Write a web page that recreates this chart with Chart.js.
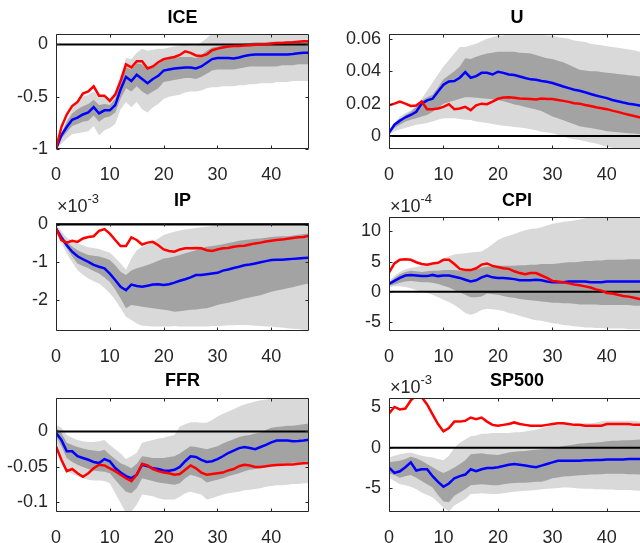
<!DOCTYPE html>
<html><head><meta charset="utf-8">
<script src="https://cdn.jsdelivr.net/npm/chart.js@4.4.1/dist/chart.umd.min.js"></script>
<style>
html,body{margin:0;padding:0;background:#fff;overflow:hidden;width:640px;height:543px;}
canvas{position:absolute;}
</style></head><body>
<script>
const horizons = [0,1,2,3,4,5,6,7,8,9,10,11,12,13,14,15,16,17,18,19,20,21,22,23,24,25,26,27,28,29,30,31,32,33,34,35,36,37,38,39,40,41,42,43,44,45,46,47];
const xTicks = [0,10,20,30,40];

// ICE
const iceBlue = [-1,-0.87,-0.79,-0.72,-0.70,-0.67,-0.65,-0.60,-0.66,-0.63,-0.63,-0.58,-0.43,-0.31,-0.35,-0.29,-0.33,-0.37,-0.33,-0.30,-0.25,-0.24,-0.23,-0.225,-0.22,-0.22,-0.23,-0.21,-0.175,-0.14,-0.13,-0.13,-0.13,-0.135,-0.125,-0.11,-0.10,-0.097,-0.095,-0.097,-0.095,-0.097,-0.095,-0.095,-0.092,-0.085,-0.08,-0.08];
const iceRed = [-1,-0.79,-0.67,-0.59,-0.55,-0.47,-0.45,-0.40,-0.49,-0.49,-0.54,-0.48,-0.35,-0.19,-0.22,-0.16,-0.16,-0.23,-0.21,-0.17,-0.14,-0.13,-0.12,-0.10,-0.065,-0.08,-0.105,-0.11,-0.095,-0.055,-0.04,-0.03,-0.02,-0.015,-0.015,-0.01,-0.007,-0.003,0,0.003,0.01,0.015,0.015,0.018,0.02,0.025,0.03,0.03];
const iceHi90 = [-1,-0.85,-0.72,-0.62,-0.55,-0.50,-0.48,-0.45,-0.50,-0.50,-0.52,-0.45,-0.30,-0.13,-0.14,-0.08,-0.04,-0.06,-0.05,-0.04,-0.04,-0.03,-0.02,-0.01,0.0,-0.01,-0.01,0.02,0.06,0.11,0.13,0.14,0.14,0.15,0.15,0.15,0.15,0.16,0.16,0.16,0.16,0.16,0.16,0.16,0.16,0.16,0.16,0.16];
const iceHi68 = [-1,-0.85,-0.74,-0.66,-0.62,-0.59,-0.57,-0.53,-0.58,-0.57,-0.58,-0.52,-0.35,-0.22,-0.24,-0.18,-0.19,-0.24,-0.22,-0.19,-0.15,-0.14,-0.13,-0.12,-0.12,-0.12,-0.13,-0.10,-0.06,-0.03,-0.02,-0.01,-0.01,-0.01,0.0,0.01,0.015,0.02,0.02,0.02,0.025,0.025,0.025,0.03,0.03,0.03,0.035,0.035];
const iceLo68 = [-1,-0.90,-0.84,-0.78,-0.76,-0.74,-0.73,-0.68,-0.74,-0.70,-0.69,-0.65,-0.52,-0.42,-0.45,-0.40,-0.45,-0.48,-0.45,-0.42,-0.36,-0.35,-0.34,-0.33,-0.32,-0.32,-0.33,-0.31,-0.28,-0.25,-0.24,-0.24,-0.24,-0.24,-0.23,-0.22,-0.21,-0.21,-0.21,-0.21,-0.21,-0.21,-0.20,-0.20,-0.20,-0.19,-0.19,-0.19];
const iceLo90 = [-1,-0.95,-0.90,-0.86,-0.85,-0.84,-0.83,-0.78,-0.87,-0.82,-0.80,-0.76,-0.62,-0.55,-0.60,-0.55,-0.62,-0.65,-0.60,-0.57,-0.52,-0.50,-0.49,-0.48,-0.46,-0.45,-0.45,-0.44,-0.42,-0.41,-0.41,-0.40,-0.40,-0.40,-0.39,-0.39,-0.38,-0.38,-0.37,-0.37,-0.37,-0.36,-0.36,-0.36,-0.35,-0.35,-0.35,-0.35];
const iceTicks = [-1,-0.5,0];

// U
const uBlue = [0.002,0.007,0.0095,0.0116,0.013,0.015,0.020,0.022,0.023,0.0275,0.0317,0.0337,0.034,0.036,0.0395,0.036,0.037,0.039,0.039,0.038,0.0397,0.039,0.038,0.0377,0.0368,0.0358,0.035,0.0348,0.034,0.0335,0.0327,0.0317,0.0306,0.0296,0.0286,0.028,0.027,0.026,0.025,0.0242,0.0234,0.0223,0.0215,0.0207,0.020,0.0195,0.0188,0.018];
const uRed = [0.019,0.020,0.0213,0.020,0.0186,0.0188,0.0213,0.0166,0.0166,0.017,0.018,0.0197,0.0166,0.017,0.018,0.016,0.019,0.020,0.0197,0.0213,0.023,0.0238,0.024,0.0236,0.0232,0.023,0.0228,0.0226,0.0232,0.0228,0.0228,0.0223,0.0217,0.0211,0.0203,0.020,0.0192,0.0186,0.0178,0.0172,0.0166,0.0157,0.0149,0.014,0.0132,0.0124,0.0116,0.0108];
const uHi90 = [0.003,0.008,0.012,0.014,0.016,0.019,0.023,0.028,0.033,0.038,0.043,0.047,0.051,0.055,0.055,0.056,0.057,0.0585,0.060,0.061,0.062,0.062,0.063,0.063,0.063,0.063,0.063,0.063,0.0625,0.062,0.062,0.061,0.0605,0.060,0.059,0.0585,0.058,0.057,0.0565,0.056,0.0555,0.055,0.0545,0.054,0.0535,0.053,0.052,0.052];
const uHi68 = [0.002,0.006,0.009,0.013,0.015,0.018,0.022,0.024,0.0255,0.030,0.035,0.0375,0.040,0.043,0.048,0.0475,0.049,0.050,0.051,0.0515,0.052,0.052,0.052,0.052,0.0515,0.0513,0.051,0.050,0.049,0.048,0.0476,0.0465,0.0455,0.044,0.0425,0.041,0.0405,0.040,0.040,0.0395,0.039,0.0387,0.0383,0.038,0.0376,0.0372,0.0368,0.0364];
const uLo68 = [0.002,0.005,0.007,0.009,0.010,0.011,0.012,0.013,0.015,0.0175,0.020,0.021,0.022,0.023,0.024,0.024,0.0237,0.0234,0.023,0.0227,0.0223,0.0215,0.0205,0.0195,0.0188,0.018,0.0172,0.0164,0.0155,0.0137,0.012,0.011,0.0098,0.0085,0.0073,0.006,0.0055,0.005,0.0043,0.0037,0.003,0.0027,0.0023,0.002,0.0017,0.0015,0.0012,0.001];
const uLo90 = [0.001,0.003,0.004,0.005,0.006,0.007,0.0075,0.008,0.009,0.010,0.011,0.011,0.011,0.0105,0.010,0.0099,0.009,0.0085,0.008,0.0074,0.0068,0.0064,0.006,0.0056,0.0052,0.0048,0.0042,0.0036,0.0027,0.0022,0.0017,0.0008,-0.0003,-0.0014,-0.002,-0.0025,-0.0032,-0.004,-0.0046,-0.0056,-0.0066,-0.0072,-0.0077,-0.0083,-0.0088,-0.009,-0.0095,-0.01];
const uTicks = [0,0.02,0.04,0.06];

// IP (x 10^-3)
const ipBlue = [-0.1,-0.34,-0.55,-0.72,-0.84,-0.92,-0.99,-1.07,-1.12,-1.16,-1.30,-1.47,-1.65,-1.74,-1.59,-1.63,-1.65,-1.62,-1.59,-1.58,-1.60,-1.58,-1.54,-1.49,-1.45,-1.40,-1.34,-1.34,-1.32,-1.30,-1.28,-1.22,-1.19,-1.15,-1.12,-1.08,-1.06,-1.03,-1.00,-0.97,-0.94,-0.93,-0.93,-0.92,-0.91,-0.90,-0.89,-0.88];
const ipRed = [-0.1,-0.41,-0.48,-0.43,-0.46,-0.37,-0.33,-0.31,-0.17,-0.12,-0.24,-0.41,-0.57,-0.57,-0.34,-0.41,-0.53,-0.48,-0.46,-0.55,-0.66,-0.70,-0.72,-0.66,-0.63,-0.63,-0.62,-0.63,-0.68,-0.70,-0.66,-0.63,-0.62,-0.59,-0.57,-0.56,-0.53,-0.50,-0.48,-0.45,-0.43,-0.41,-0.40,-0.38,-0.36,-0.34,-0.33,-0.30];
const ipHi90 = [0,-0.18,-0.35,-0.43,-0.50,-0.55,-0.60,-0.62,-0.65,-0.70,-0.75,-0.88,-1.03,-1.20,-0.90,-0.68,-0.59,-0.52,-0.46,-0.37,-0.28,-0.23,-0.19,-0.16,-0.13,-0.11,-0.09,-0.07,-0.06,-0.04,-0.02,0.0,0.02,0.04,0.05,0.07,0.09,0.1,0.12,0.13,0.13,0.13,0.13,0.13,0.13,0.13,0.13,0.13];
const ipHi68 = [-0.05,-0.28,-0.46,-0.58,-0.68,-0.75,-0.81,-0.83,-0.85,-0.89,-0.94,-1.08,-1.25,-1.34,-1.22,-1.16,-1.12,-1.07,-1.02,-0.96,-0.90,-0.88,-0.85,-0.81,-0.76,-0.72,-0.68,-0.63,-0.59,-0.57,-0.55,-0.52,-0.49,-0.46,-0.43,-0.41,-0.40,-0.38,-0.37,-0.35,-0.33,-0.32,-0.31,-0.31,-0.29,-0.27,-0.25,-0.24];
const ipLo68 = [-0.15,-0.40,-0.63,-0.85,-1.03,-1.10,-1.16,-1.23,-1.30,-1.40,-1.52,-1.72,-1.96,-2.22,-2.13,-2.15,-2.18,-2.20,-2.22,-2.24,-2.26,-2.28,-2.31,-2.30,-2.28,-2.26,-2.25,-2.23,-2.22,-2.18,-2.13,-2.10,-2.07,-2.04,-2.00,-1.96,-1.93,-1.90,-1.87,-1.83,-1.78,-1.75,-1.72,-1.69,-1.66,-1.62,-1.59,-1.56];
const ipLo90 = [-0.2,-0.48,-0.77,-1.00,-1.21,-1.33,-1.43,-1.50,-1.56,-1.68,-1.82,-2.00,-2.22,-2.44,-2.53,-2.62,-2.68,-2.69,-2.70,-2.70,-2.70,-2.70,-2.69,-2.70,-2.70,-2.70,-2.70,-2.70,-2.70,-2.69,-2.69,-2.68,-2.67,-2.67,-2.66,-2.66,-2.67,-2.68,-2.69,-2.70,-2.70,-2.72,-2.73,-2.75,-2.76,-2.77,-2.79,-2.80];
const ipTicks = [-2,-1,0];

// CPI (x 10^-4)
const cpiBlue = [1.3,1.8,2.3,2.7,2.8,2.7,2.6,2.6,2.8,2.6,2.7,2.7,2.5,2.3,2.0,1.7,1.9,2.4,2.7,2.4,2.3,2.3,2.2,2.1,1.9,1.9,1.9,2.0,1.9,1.7,1.6,1.6,1.6,1.7,1.7,1.7,1.7,1.6,1.6,1.6,1.7,1.7,1.7,1.7,1.7,1.7,1.7,1.7];
const cpiRed = [3.2,4.7,5.3,5.4,5.3,4.9,4.6,4.5,4.7,4.8,5.3,5.3,4.6,3.8,3.6,3.6,3.9,4.5,4.7,4.3,4.1,3.9,3.8,3.4,3.1,2.9,3.1,3.1,2.7,2.3,1.8,1.7,1.6,1.4,1.2,1.1,0.9,0.7,0.4,0.2,-0.2,-0.3,-0.5,-0.7,-0.8,-1.0,-1.2,-1.3];
const cpiHi90 = [1.8,2.6,3.3,3.7,4.0,4.1,4.3,4.4,4.5,4.9,5.5,5.9,6.2,6.3,6.4,6.5,6.6,6.7,7.2,7.9,8.6,9.0,9.3,9.6,9.9,10.2,10.4,10.5,10.7,11.0,11.3,11.4,11.6,11.7,11.8,12.0,12.2,12.4,12.6,12.7,12.8,12.8,12.8,12.8,12.8,12.8,12.8,12.8];
const cpiHi68 = [1.5,2.3,2.9,3.3,3.5,3.4,3.3,3.4,3.5,3.5,3.6,3.6,3.6,3.5,3.4,3.5,3.7,4.0,4.2,4.2,4.3,4.3,4.3,4.3,4.4,4.4,4.5,4.5,4.6,4.6,4.6,4.7,4.8,4.9,4.9,5.0,5.1,5.1,5.2,5.2,5.3,5.3,5.3,5.3,5.4,5.4,5.4,5.4];
const cpiLo68 = [1.0,1.2,1.5,1.7,1.8,1.7,1.6,1.6,1.5,1.3,1.0,0.7,0.3,-0.1,-0.5,-0.9,-0.9,-0.8,-0.3,-0.4,-0.5,-0.7,-0.9,-1.0,-1.2,-1.3,-1.4,-1.5,-1.6,-1.7,-1.8,-1.8,-1.9,-1.9,-2.0,-2.1,-2.1,-2.1,-2.1,-2.2,-2.2,-2.2,-2.2,-2.2,-2.2,-2.3,-2.3,-2.3];
const cpiLo90 = [0.8,0.9,0.9,0.8,0.6,0.3,0.0,-0.2,-0.5,-0.9,-1.3,-1.7,-2.2,-2.8,-3.5,-3.8,-3.5,-3.0,-2.8,-2.9,-3.0,-3.2,-3.5,-3.7,-4.0,-4.2,-4.5,-4.7,-4.8,-5.0,-5.2,-5.3,-5.5,-5.6,-5.7,-5.8,-5.9,-5.9,-6.0,-6.0,-6.1,-6.1,-6.1,-6.1,-6.2,-6.2,-6.2,-6.2];
const cpiTicks = [-5,0,5,10];

// FFR
const ffrBlue = [-0.002,-0.012,-0.028,-0.028,-0.035,-0.0375,-0.040,-0.043,-0.0446,-0.039,-0.042,-0.0516,-0.058,-0.063,-0.066,-0.061,-0.047,-0.049,-0.052,-0.053,-0.055,-0.0554,-0.054,-0.050,-0.042,-0.035,-0.036,-0.040,-0.043,-0.042,-0.039,-0.035,-0.0305,-0.027,-0.0235,-0.022,-0.0235,-0.025,-0.022,-0.019,-0.0155,-0.013,-0.0127,-0.013,-0.014,-0.0135,-0.0127,-0.0117];
const ffrRed = [-0.021,-0.040,-0.056,-0.053,-0.059,-0.064,-0.059,-0.052,-0.047,-0.048,-0.052,-0.056,-0.061,-0.066,-0.070,-0.061,-0.0455,-0.048,-0.053,-0.056,-0.058,-0.059,-0.061,-0.060,-0.054,-0.048,-0.052,-0.058,-0.061,-0.060,-0.059,-0.058,-0.055,-0.053,-0.049,-0.047,-0.048,-0.050,-0.050,-0.049,-0.048,-0.0475,-0.047,-0.0467,-0.0465,-0.0455,-0.045,-0.0446];
const ffrHi90 = [0.009,0.005,-0.005,-0.009,-0.012,-0.014,-0.015,-0.015,-0.014,-0.012,-0.019,-0.025,-0.031,-0.039,-0.035,-0.030,-0.016,-0.014,-0.012,-0.010,-0.009,-0.007,-0.005,0.007,0.010,0.013,0.013,0.012,0.012,0.016,0.021,0.025,0.028,0.031,0.035,0.038,0.040,0.042,0.044,0.045,0.046,0.048,0.05,0.05,0.05,0.05,0.05,0.05];
const ffrHi68 = [0.005,-0.002,-0.016,-0.019,-0.022,-0.024,-0.026,-0.027,-0.028,-0.026,-0.033,-0.039,-0.045,-0.048,-0.052,-0.0455,-0.035,-0.036,-0.0375,-0.0375,-0.0375,-0.036,-0.035,-0.031,-0.026,-0.021,-0.022,-0.0235,-0.025,-0.023,-0.021,-0.017,-0.014,-0.011,-0.008,-0.006,-0.005,-0.003,-0.0014,0.002,0.005,0.006,0.007,0.008,0.008,0.009,0.010,0.011];
const ffrLo68 = [-0.007,-0.021,-0.0375,-0.043,-0.047,-0.050,-0.053,-0.055,-0.056,-0.057,-0.059,-0.068,-0.077,-0.085,-0.087,-0.080,-0.066,-0.068,-0.070,-0.072,-0.073,-0.074,-0.075,-0.073,-0.066,-0.061,-0.063,-0.066,-0.072,-0.070,-0.068,-0.066,-0.063,-0.061,-0.059,-0.056,-0.054,-0.053,-0.052,-0.050,-0.048,-0.047,-0.0455,-0.045,-0.044,-0.044,-0.043,-0.042];
const ffrLo90 = [-0.014,-0.035,-0.056,-0.060,-0.063,-0.066,-0.068,-0.069,-0.069,-0.070,-0.073,-0.087,-0.101,-0.115,-0.113,-0.103,-0.089,-0.090,-0.0915,-0.094,-0.096,-0.096,-0.096,-0.092,-0.087,-0.085,-0.087,-0.089,-0.096,-0.094,-0.0915,-0.089,-0.087,-0.086,-0.085,-0.083,-0.082,-0.081,-0.080,-0.078,-0.077,-0.076,-0.076,-0.075,-0.074,-0.074,-0.073,-0.073];
const ffrTicks = [-0.1,-0.05,0];

// SP500 (x 10^-3)
const spBlue = [-2.45,-3.1,-2.9,-2.4,-1.8,-2.8,-2.65,-2.65,-3.5,-4.2,-4.8,-4.4,-3.75,-3.5,-3.3,-2.65,-2.9,-2.65,-2.5,-2.5,-2.4,-2.25,-2.1,-2.0,-2.1,-2.2,-2.3,-2.4,-2.2,-2.0,-1.8,-1.6,-1.6,-1.6,-1.6,-1.6,-1.55,-1.55,-1.5,-1.5,-1.45,-1.45,-1.45,-1.45,-1.4,-1.4,-1.38,-1.35];
const spRed = [4.2,5.0,4.7,4.8,5.8,6.4,6.2,5.3,4.1,2.9,2.0,2.4,3.2,3.2,3.3,3.7,3.5,3.7,3.2,2.8,2.7,2.8,2.9,3.1,2.9,2.8,2.7,2.7,2.7,2.8,2.9,3.0,3.0,2.9,2.8,2.8,2.7,2.7,2.7,2.7,2.9,2.9,2.9,2.9,2.9,2.8,2.8,2.8];
const spHi90 = [-1.2,-1.0,-0.8,-0.7,-0.6,-0.8,-1.0,-1.1,-1.2,-1.4,-1.55,-1.0,0.0,0.6,1.0,1.4,1.5,1.7,1.7,1.8,1.8,1.8,1.8,1.9,1.9,2.0,2.1,2.2,2.4,2.6,2.8,2.8,2.9,2.9,2.9,2.9,3.0,3.0,3.1,3.2,3.3,3.3,3.3,3.3,3.3,3.3,3.2,3.1];
const spHi68 = [-1.8,-1.7,-1.6,-1.4,-1.1,-1.3,-1.6,-2.0,-2.4,-2.8,-3.1,-2.8,-2.45,-2.0,-1.55,-0.8,-0.75,-0.7,-0.8,-0.85,-0.9,-0.75,-0.6,-0.5,-0.45,-0.4,-0.33,-0.27,-0.2,-0.15,-0.1,0.05,0.2,0.3,0.4,0.5,0.55,0.6,0.65,0.7,0.8,0.85,0.85,0.9,0.9,0.95,1.0,1.0];
const spLo68 = [-3.1,-3.4,-3.7,-3.5,-3.35,-3.7,-4.1,-4.5,-4.9,-5.8,-6.6,-6.7,-5.9,-5.5,-5.1,-4.6,-4.55,-4.5,-4.55,-4.6,-4.6,-4.5,-4.4,-4.35,-4.3,-4.3,-4.25,-4.2,-4.2,-4.0,-3.75,-3.65,-3.55,-3.5,-3.45,-3.4,-3.35,-3.3,-3.3,-3.25,-3.2,-3.2,-3.2,-3.2,-3.25,-3.25,-3.3,-3.3];
const spLo90 = [-3.7,-4.1,-4.5,-4.6,-4.8,-5.1,-5.5,-5.8,-6.1,-6.7,-7.35,-7.8,-7.1,-6.7,-6.3,-5.7,-5.65,-5.6,-5.65,-5.7,-5.7,-5.6,-5.5,-5.4,-5.35,-5.3,-5.25,-5.2,-5.1,-5.05,-5.0,-4.95,-4.9,-4.9,-4.95,-5.0,-5.05,-5.05,-5.1,-5.1,-5.15,-5.15,-5.2,-5.2,-5.2,-5.25,-5.3,-5.3];
const spTicks = [-5,0,5];

const FONT = '"Liberation Sans", Arial, Helvetica, sans-serif';
const TXT = '#262626';
const LIGHT = '#d9d9d9';
const DARK = '#a3a3a3';

const panels = [
  {title:'ICE', blue:iceBlue, red:iceRed, hi90:iceHi90, lo90:iceLo90, hi68:iceHi68, lo68:iceLo68, yMin:-1, yMax:0.1, yTicks:iceTicks, exp:null,
   left:0, top:0, w:320, h:190, area:{l:56, r:309, t:34, b:149}, titleY:18.5},
  {title:'U', blue:uBlue, red:uRed, hi90:uHi90, lo90:uLo90, hi68:uHi68, lo68:uLo68, yMin:-0.008, yMax:0.063, yTicks:uTicks, exp:null,
   left:320, top:0, w:330, h:190, area:{l:69, r:325, t:34, b:149}, titleY:18.5},
  {title:'IP', blue:ipBlue, red:ipRed, hi90:ipHi90, lo90:ipLo90, hi68:ipHi68, lo68:ipLo68, yMin:-2.82, yMax:0.04, yTicks:ipTicks, exp:'-3',
   left:0, top:180, w:320, h:190, area:{l:56, r:309, t:43, b:151}, titleY:201.5, expY:207},
  {title:'CPI', blue:cpiBlue, red:cpiRed, hi90:cpiHi90, lo90:cpiLo90, hi68:cpiHi68, lo68:cpiLo68, yMin:-6.5, yMax:12.4, yTicks:cpiTicks, exp:'-4',
   left:320, top:180, w:330, h:190, area:{l:69, r:325, t:37, b:151}, titleY:201.5, expY:207},
  {title:'FFR', blue:ffrBlue, red:ffrRed, hi90:ffrHi90, lo90:ffrLo90, hi68:ffrHi68, lo68:ffrLo68, yMin:-0.1135, yMax:0.047, yTicks:ffrTicks, exp:null,
   left:0, top:360, w:320, h:183, area:{l:56, r:309, t:38, b:152}, titleY:381.5},
  {title:'SP500', blue:spBlue, red:spRed, hi90:spHi90, lo90:spLo90, hi68:spHi68, lo68:spLo68, yMin:-7.9, yMax:6.1, yTicks:spTicks, exp:'-3',
   left:320, top:360, w:330, h:183, area:{l:69, r:325, t:38, b:152}, titleY:381.5, expY:388}
];

function framePlugin(p) {
  return {
    id: 'frame',
    afterDraw(chart) {
      const ctx = chart.ctx, a = chart.chartArea, xs = chart.scales.x, ys = chart.scales.y;
      ctx.save();
      ctx.strokeStyle = TXT; ctx.lineWidth = 1;
      const L = Math.round(a.left) + 0.5, R = Math.round(a.right) - 0.5, T = Math.round(a.top) + 0.5, B = Math.round(a.bottom) - 0.5;
      ctx.beginPath();
      ctx.rect(L, T, R - L, B - T);
      xTicks.forEach(v => {
        const px = Math.round(xs.getPixelForValue(v)) + 0.5;
        ctx.moveTo(px, B); ctx.lineTo(px, B - 3);
        ctx.moveTo(px, T); ctx.lineTo(px, T + 3);
      });
      p.yTicks.forEach(v => {
        const py = Math.round(ys.getPixelForValue(v)) + 0.5;
        ctx.moveTo(L, py); ctx.lineTo(L + 3, py);
        ctx.moveTo(R, py); ctx.lineTo(R - 3, py);
      });
      ctx.stroke();
      ctx.fillStyle = '#000';
      ctx.font = 'bold 18px ' + FONT;
      ctx.textAlign = 'center'; ctx.textBaseline = 'middle';
      ctx.fillText(p.title, (a.left + a.right) / 2, p.titleY - p.top);
      if (p.exp) {
        ctx.fillStyle = TXT;
        ctx.textAlign = 'left';
        ctx.font = '18px ' + FONT;
        const base = '\u00d710';
        const x0 = a.left + 1;
        ctx.fillText(base, x0, p.expY - p.top);
        const w = ctx.measureText(base).width;
        ctx.font = '13px ' + FONT;
        ctx.fillText(p.exp, x0 + w, p.expY - p.top - 8);
      }
      ctx.restore();
    }
  };
}

function makeChart(p) {
  const c = document.createElement('canvas');
  c.width = p.w; c.height = p.h;
  c.style.left = p.left + 'px'; c.style.top = p.top + 'px';
  c.style.width = p.w + 'px'; c.style.height = p.h + 'px';
  document.body.appendChild(c);
  const pts = arr => horizons.map((h, i) => ({x: h, y: arr[i]}));
  const band = (arr, fill, color, order) => ({data: pts(arr), fill: fill, backgroundColor: color, borderColor: 'rgba(0,0,0,0)', borderWidth: 0, pointRadius: 0, order: order, tension: 0});
  new Chart(c, {
    type: 'line',
    data: {datasets: [
      band(p.hi90, '+1', LIGHT, 10),
      band(p.lo90, false, LIGHT, 9),
      band(p.hi68, '+1', DARK, 8),
      band(p.lo68, false, DARK, 7),
      {data: [{x: horizons[0], y: 0}, {x: horizons[horizons.length - 1], y: 0}], borderColor: '#000', borderWidth: 2, pointRadius: 0, fill: false, order: 3},
      {data: pts(p.blue), borderColor: '#0000ff', borderWidth: 2.5, pointRadius: 0, fill: false, order: 2},
      {data: pts(p.red), borderColor: '#ff0000', borderWidth: 2.5, pointRadius: 0, fill: false, order: 1}
    ]},
    options: {
      responsive: false, animation: false, devicePixelRatio: 1,
      events: [],
      layout: {padding: {left: 0, right: p.w - p.area.r, top: p.area.t, bottom: 0}},
      plugins: {legend: {display: false}, tooltip: {enabled: false}, title: {display: false}},
      scales: {
        x: {
          type: 'linear', min: horizons[0], max: horizons[horizons.length - 1],
          grid: {display: false, drawTicks: false}, border: {display: false},
          afterBuildTicks: s => { s.ticks = xTicks.map(v => ({value: v})); },
          afterFit: s => { s.height = p.h - p.area.b; },
          ticks: {padding: 15, color: TXT, font: {family: FONT, size: 18}, maxRotation: 0, autoSkip: false, callback: v => String(v)}
        },
        y: {
          type: 'linear', min: p.yMin, max: p.yMax,
          grid: {display: false, drawTicks: false}, border: {display: false},
          afterBuildTicks: s => { s.ticks = p.yTicks.map(v => ({value: v})); },
          afterFit: s => { s.width = p.area.l; },
          ticks: {padding: 8, color: TXT, font: {family: FONT, size: 18}, autoSkip: false, callback: v => String(v)}
        }
      }
    },
    plugins: [framePlugin(p)]
  });
}

panels.forEach(makeChart);
</script>
</body></html>
